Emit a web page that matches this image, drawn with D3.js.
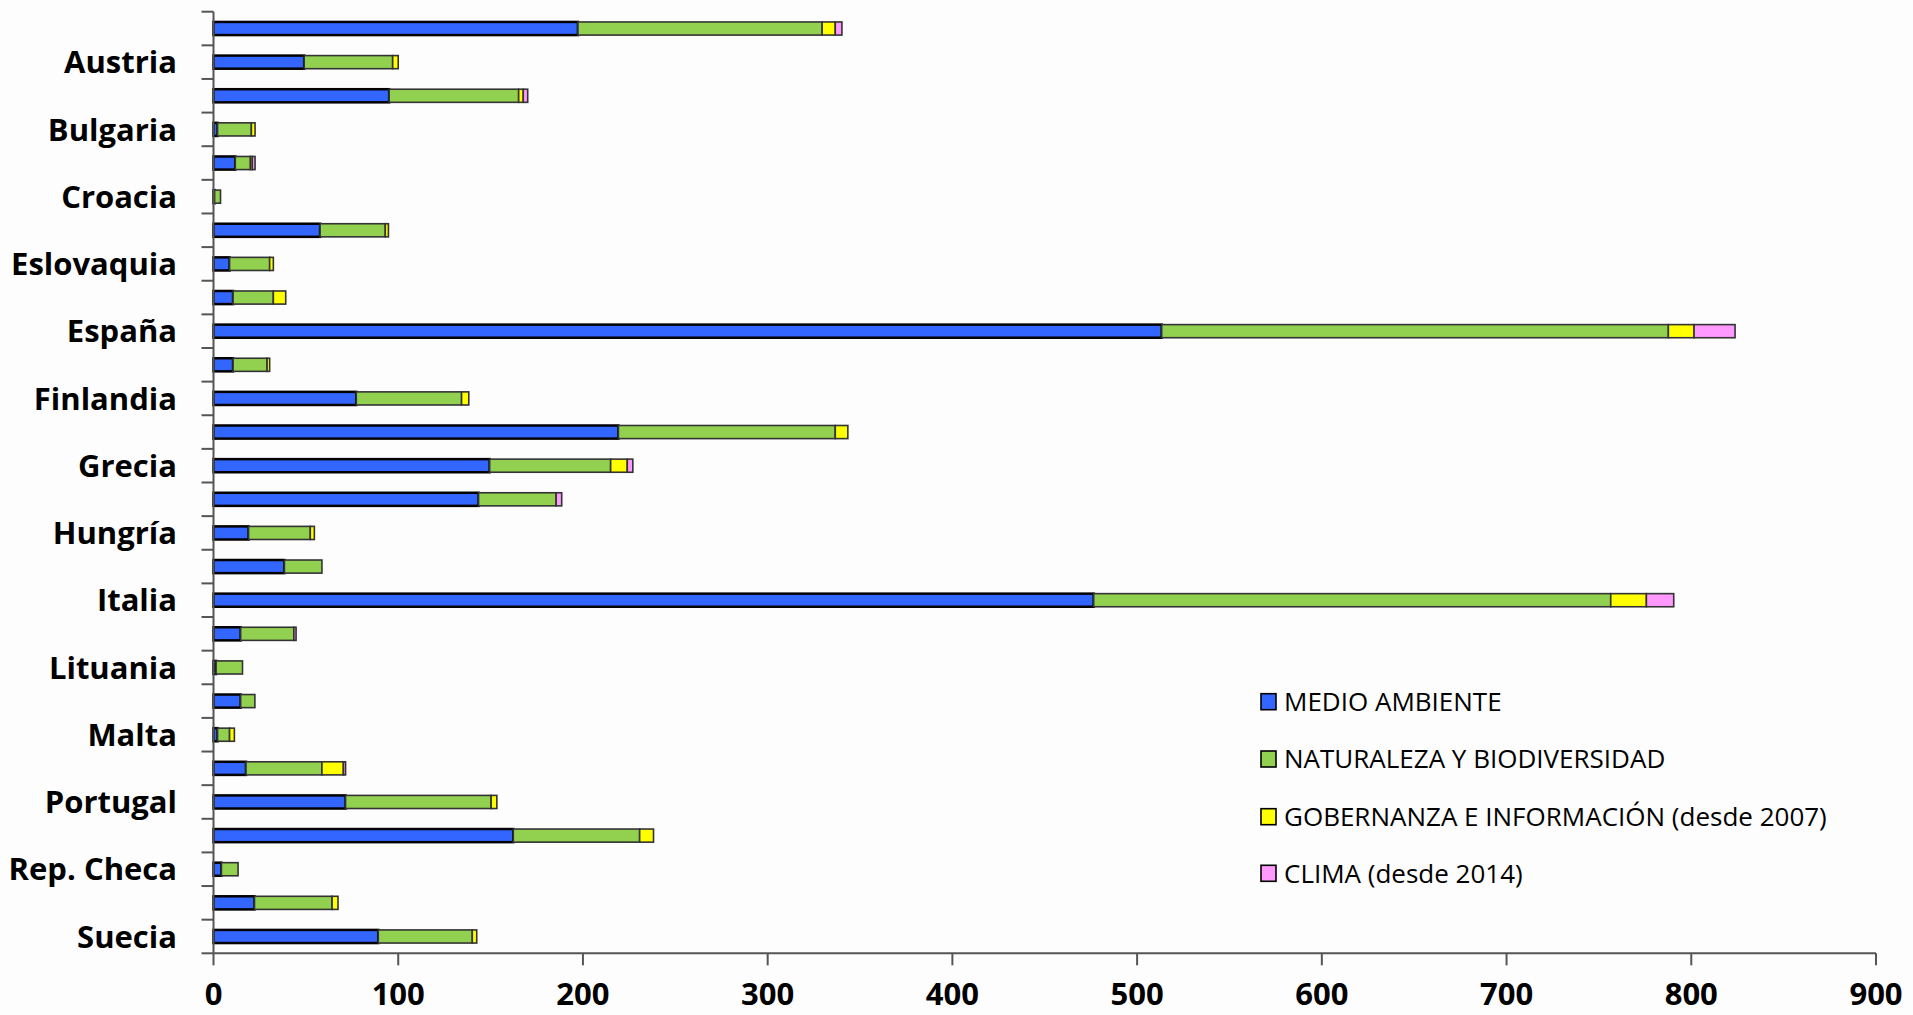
<!DOCTYPE html>
<html><head><meta charset="utf-8">
<script src="https://cdn.jsdelivr.net/npm/d3@7"></script>
<style>
body{margin:0;background:#fdfdfd}
svg{display:block}
</style>
</head><body>
<svg id="chart" width="1913" height="1015"></svg>
<script>
const categories = ["Alemania","Austria","Bélgica","Bulgaria","Chipre","Croacia","Dinamarca","Eslovaquia","Eslovenia","España","Estonia","Finlandia","Francia","Grecia","Holanda","Hungría","Irlanda","Italia","Letonia","Lituania","Luxemburgo","Malta","Polonia","Portugal","Reino Unido","Rep. Checa","Rumanía","Suecia"];
const seriesNames = ["MEDIO AMBIENTE","NATURALEZA Y BIODIVERSIDAD","GOBERNANZA E INFORMACIÓN (desde 2007)","CLIMA (desde 2014)"];
const medioAmbiente = [197.3,49.1,95.1,2.2,11.8,0.6,57.7,8.7,10.6,513.3,10.6,77.3,219.2,149.5,143.5,19.0,38.4,476.5,14.7,1.4,14.7,2.2,17.6,71.5,162.3,4.3,22.2,89.2];
const naturaleza   = [132.2,47.9,70.1,18.3,8.2,3.2,35.3,21.7,21.8,274.3,18.4,57.0,117.4,65.5,42.0,33.4,20.3,279.9,28.8,14.3,7.7,6.5,41.1,78.8,68.4,9.0,42.0,50.9];
const gobernanza   = [7.1,3.0,2.5,2.0,1.0,0,1.7,2.0,6.7,13.9,1.4,3.9,6.8,9.0,0,2.2,0,19.3,0,0,0,2.6,11.6,3.1,7.5,0,3.2,2.4];
const clima        = [3.6,0,2.4,0,1.5,0,0,0,0,22.2,0,0,0,3.0,3.0,0,0,14.8,1.2,0,0,0,1.2,0,0,0,0,0];
const xTicks = [0,100,200,300,400,500,600,700,800,900];
const colors = ["#3366FF","#92D050","#FFFF00","#FF99FF"];

(function(){
const svg = d3.select("#chart");
const mLeft = 213.5, mRight = 1876, mTop = 11.7, mBottom = 953.3;

const x = d3.scaleLinear().domain([0,900]).range([mLeft,mRight]);
const y = d3.scaleBand().domain(categories).range([mTop,mBottom]).padding(0);
const barH = y.bandwidth()*0.39;

const rows = categories.map((c,i)=>({cat:c, s0:medioAmbiente[i], s1:naturaleza[i], s2:gobernanza[i], s3:clima[i]}));
const keys = ["s0","s1","s2","s3"];
const stacked = d3.stack().keys(keys)(rows);

stacked.forEach((layer,k)=>{
  svg.append("g").selectAll("rect").data(layer.filter(d=>d[1]-d[0]>0)).join("rect")
    .attr("x", d=>x(d[0]))
    .attr("y", d=>y(d.data.cat)+(y.bandwidth()-barH)/2)
    .attr("width", d=>x(d[1])-x(d[0]))
    .attr("height", barH)
    .attr("fill", colors[k])
    .attr("stroke", k===0 ? "#000" : "#333")
    .attr("stroke-width", k===0 ? 2.5 : 1.6);
});

const gy = svg.append("g");
gy.append("line").attr("x1",mLeft).attr("x2",mLeft).attr("y1",mTop).attr("y2",mBottom)
  .attr("stroke","#555").attr("stroke-width",2);
const bounds = categories.map(c=>y(c)).concat([y.range()[1]]);
gy.selectAll("line.tk").data(bounds).join("line").attr("class","tk")
  .attr("x1",mLeft-12).attr("x2",mLeft).attr("y1",d=>d).attr("y2",d=>d)
  .attr("stroke","#555").attr("stroke-width",2);
gy.selectAll("text").data(categories.filter((c,i)=>i%2===1)).join("text")
  .attr("x",177).attr("y",d=>y(d)+y.bandwidth()/2)
  .attr("dy","0.36em").attr("text-anchor","end")
  .attr("font-family","'Open Sans', sans-serif").attr("font-weight",700)
  .attr("font-size",31).attr("fill","#000").text(d=>d);

const gx = svg.append("g");
gx.append("line").attr("x1",mLeft).attr("x2",mRight).attr("y1",mBottom).attr("y2",mBottom)
  .attr("stroke","#555").attr("stroke-width",2);
gx.selectAll("line.tk").data(xTicks).join("line").attr("class","tk")
  .attr("x1",d=>x(d)).attr("x2",d=>x(d)).attr("y1",mBottom).attr("y2",mBottom+12)
  .attr("stroke","#555").attr("stroke-width",2);
gx.selectAll("text").data(xTicks).join("text")
  .attr("x",d=>x(d)).attr("y",1005)
  .attr("text-anchor","middle")
  .attr("font-family","'Open Sans', sans-serif").attr("font-weight",700)
  .attr("font-size",31).attr("fill","#000").text(d=>d);

const lg = svg.append("g");
const legY = [701.7,759,816.7,873.3];
seriesNames.forEach((n,i)=>{
  lg.append("rect").attr("x",1261).attr("y",legY[i]-8).attr("width",15).attr("height",16)
    .attr("fill",colors[i]).attr("stroke","#000").attr("stroke-width",1.6);
  lg.append("text").attr("x",1284).attr("y",legY[i]).attr("dy","0.36em")
    .attr("font-family","'Open Sans', sans-serif").attr("font-size",26)
    .attr("fill","#000").text(n);
});
})();
</script>
</body></html>
